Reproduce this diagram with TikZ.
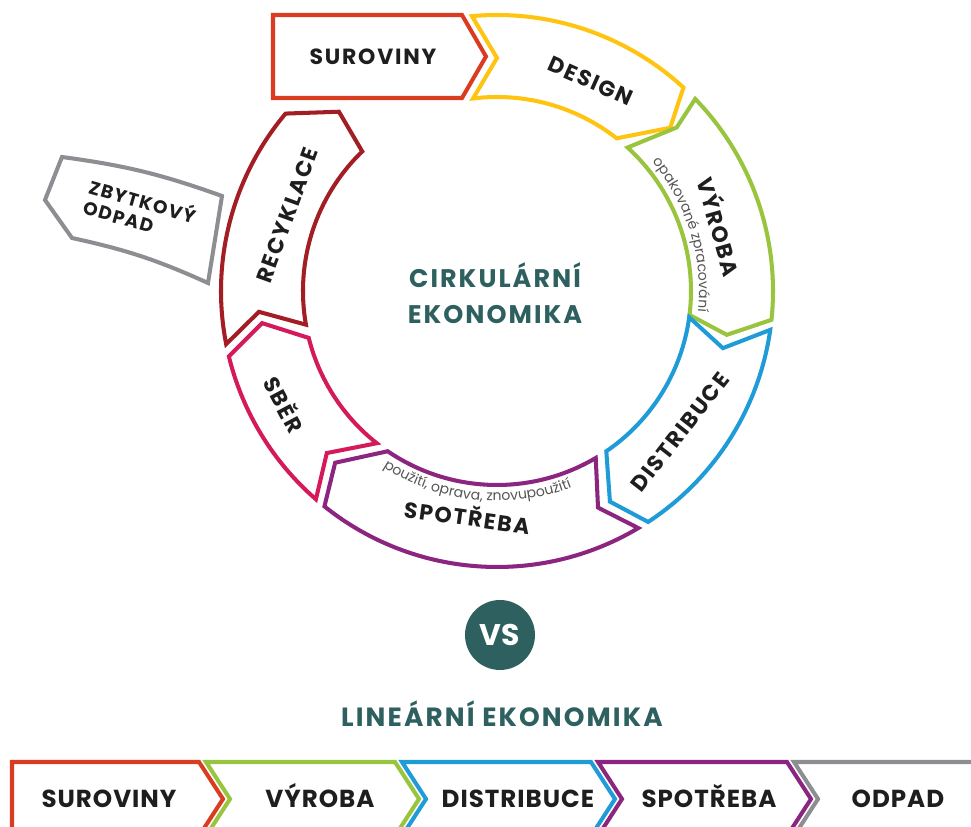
\documentclass[tikz,border=0pt]{standalone}
\usepackage{fontspec}
\setmainfont{Poppins}
\newfontfamily\labfont[LetterSpace=8]{Poppins}
\newfontfamily\linfont[LetterSpace=4]{Poppins}
\usetikzlibrary{decorations.text}

\definecolor{cred}{RGB}{217,60,32}
\definecolor{cyellow}{RGB}{254,196,16}
\definecolor{cgreen}{RGB}{152,196,62}
\definecolor{cblue}{RGB}{31,156,216}
\definecolor{cpurple}{RGB}{139,37,128}
\definecolor{ccrimson}{RGB}{212,26,90}
\definecolor{cdarkred}{RGB}{163,30,36}
\definecolor{cgray}{RGB}{140,142,145}
\definecolor{cteal}{RGB}{45,96,94}
\definecolor{ctext}{RGB}{30,30,30}

\tikzset{
  seg/.style={draw=#1, line width=2.3pt, fill=white},
  lbl/.style={font=\labfont\fontsize{12.5}{14}\selectfont\bfseries, text=ctext, inner sep=0pt,
    text height=9pt, text depth=0pt},
  lin/.style={font=\linfont\fontsize{14}{16}\selectfont\bfseries, text=ctext, inner sep=0pt,
    text height=10pt, text depth=0pt},
  title/.style={font=\labfont\fontsize{14.5}{20.5}\selectfont\bfseries, text=cteal, inner sep=0pt}
}
\newcommand\subfont{\fontsize{8}{9}\selectfont}

\begin{document}
\begin{tikzpicture}[x=0.02cm, y=0.02cm]
\clip (-497,-536) rectangle (474,291);

% kruh
\draw[seg=cred] (-224,276) -- (-35,276) -- (-11,234.5) -- (-35,193) -- (-224,193) -- cycle;
\draw[seg=cyellow] (95.2:276) arc[start angle=95.2, end angle=47.5, radius=276] -- (43.3:238)
    -- (51.9:194) arc[start angle=51.9, end angle=97.1, radius=194] -- (90:233) -- cycle;
\draw[seg=cgreen] (44.1:276) arc[start angle=44.1, end angle=-6, radius=276] -- (-10.8:234)
    -- (-7.1:194) arc[start angle=-7.1, end angle=47.7, radius=194] -- (42.3:243) -- cycle;
\draw[seg=cblue] (-8.1:276) arc[start angle=-8.1, end angle=-56.8, radius=276] -- (-61.8:239)
    -- (-55.7:194) arc[start angle=-55.7, end angle=-7.8, radius=194] -- (-14.2:233) -- cycle;
\draw[seg=cpurple] (-59.2:276) arc[start angle=-59.2, end angle=-128.7, radius=276] -- (-133.3:236)
    -- (-124.3:194) arc[start angle=-124.3, end angle=-59.4, radius=194] -- (-65:239) -- cycle;
\draw[seg=ccrimson] (-131:276) arc[start angle=-131, end angle=-166.3, radius=276] -- (-172.2:237)
    -- (-166:194) arc[start angle=-166, end angle=-128.3, radius=194] -- (-136.4:235) -- cycle;
\draw[seg=cdarkred] (191.1:276) arc[start angle=191.1, end angle=140, radius=276] -- (131.4:239)
    -- (134:194) arc[start angle=134, end angle=190, radius=194] -- (185:239) -- cycle;
\draw[seg=cgray] (-435,134) to[bend left=6] (-275,95) -- (-289,8) to[bend right=6] (-425,53)
    -- (-452,91) -- cycle;

\node[lbl] (suroviny) at (-124,234) {SUROVINY};
\node[lbl, rotate=-24] (design) at (94,210) {DESIGN};
\node[lbl, rotate=-74] (vyroba) at (221,64) {VÝROBA};
\node[lbl, rotate=52] (distribuce) at (183,-141) {DISTRIBUCE};
\node[lbl, rotate=-8] (spotreba) at (-30,-227) {SPOTŘEBA};
\node[lbl, rotate=-62] (sber) at (-214,-114) {SBĚR};
\node[lbl, rotate=70] (recyklace) at (-210,76) {RECYKLACE};
\node[font=\labfont\fontsize{10.5}{12}\selectfont\bfseries, text=ctext, inner sep=0pt, rotate=-16, align=left]
    (zbytek) at (-357,81) {ZBYTKOVÝ\\ODPAD};

\path[decorate, decoration={text along path, text align=center, text color=ctext!75,
    text={|\subfont|opakované zpracování}}] (47:202) arc[start angle=47, end angle=-13, radius=202];
\path[decorate, decoration={text along path, text align=center, text color=ctext!75,
    text={|\subfont|použití, oprava, znovupoužití}}] (228:210) arc[start angle=228, end angle=300, radius=210];

\node[title, align=center] (cirkularni) at (-2,-2) {CIRKULÁRNÍ\\EKONOMIKA};

\node[circle, fill=cteal, minimum size=1.4cm, text=white, font=\fontsize{17}{19}\selectfont\bfseries] (vs) at (3,-344) {VS};
\node[title, font=\labfont\fontsize{15}{18}\selectfont\bfseries] (linearni) at (5,-423) {LINEÁRNÍ EKONOMIKA};

% linearni rada
\draw[seg=cred] (-485,-471) -- (-298,-471) -- (-274,-508) -- (-298,-545) -- (-485,-545) -- cycle;
\draw[seg=cgreen] (-291,-471) -- (-102,-471) -- (-78,-508) -- (-102,-545) -- (-291,-545) -- (-267,-508) -- cycle;
\draw[seg=cblue] (-95,-471) -- (94,-471) -- (118,-508) -- (94,-545) -- (-95,-545) -- (-71,-508) -- cycle;
\draw[seg=cpurple] (101,-471) -- (290,-471) -- (314,-508) -- (290,-545) -- (101,-545) -- (125,-508) -- cycle;
\draw[seg=cgray] (297,-471) -- (500,-471) -- (500,-545) -- (297,-545) -- (321,-508) -- cycle;

\node[lin] (l_suroviny) at (-388,-508) {SUROVINY};
\node[lin] (l_vyroba) at (-177,-508) {VÝROBA};
\node[lin] (l_distribuce) at (21,-508) {DISTRIBUCE};
\node[lin] (l_spotreba) at (212,-508) {SPOTŘEBA};
\node[lin] (l_odpad) at (401,-508) {ODPAD};

\end{tikzpicture}
\end{document}
